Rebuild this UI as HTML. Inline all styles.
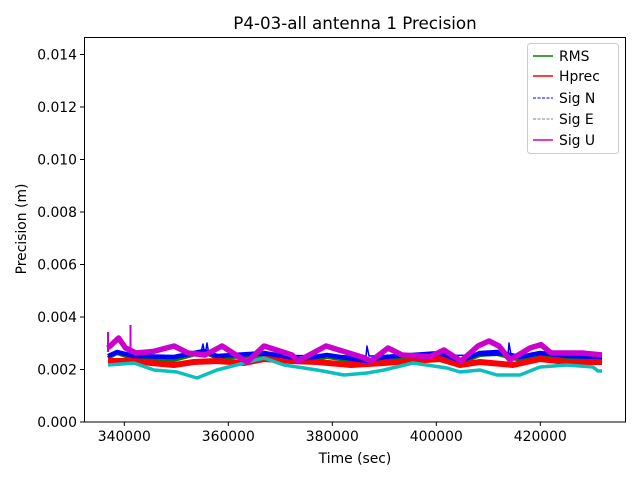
<!DOCTYPE html>
<html><head><meta charset="utf-8"><style>body{margin:0;background:#fff}svg{display:block;font-family:"DejaVu Sans","Liberation Sans",sans-serif}</style></head>
<body>
<svg width="640" height="480" xmlns="http://www.w3.org/2000/svg">
<rect width="640" height="480" fill="#fff"/>
<g fill="none" stroke-linejoin="round">
<polyline stroke="green" stroke-width="4" points="108,358 117,353 134,359 174,360 204,352 217,358 264,355 301,361 327,357 367,363 384,360 440,355 460,363 480,355 497,354 520,360 540,355 567,358 602,360"/>
<polyline stroke="red" stroke-width="6" points="108,361 134,361 151,363 174,365 194,362 217,361 244,363 264,359 291,361 317,362 351,365 384,363 413,361 440,359 460,365 480,362 513,365 540,359 567,362 602,362"/>
<polyline stroke="blue" stroke-width="4.5" points="108,356 117,352 134,356 174,357 204,351 217,356 264,353 301,359 327,355 367,361 384,357 440,353 460,361 480,353 497,352 520,357 540,353 567,356 602,357"/>
<polyline stroke="blue" stroke-width="1.5" points="200,356 203,344 205,356 207,343 209,355 366,356 367,346 369,356 508,355 509,343 511,355"/>
<polyline stroke="#0bbfbf" stroke-width="3.5" points="108,365 134,363 154,370 177,372 197,378 217,370 244,363 264,358 284,365 317,370 344,375 367,373 384,370 413,363 447,368 460,372 480,370 497,375 520,375 540,367 567,365 593,367 598,371 602,371"/>
<polyline stroke="#c0c" stroke-width="5.5" points="108,348 118.6,338 125.5,348 136,353 153,351.5 174,346 188,353 205,355 222,346 236,355 247,362 264,346 292,355 298,361 326,346 361,356.7 371,361 388,348 402,355 430,356.7 444,350 461,361 478,346 489,341 499,346 510,360 530,348 541,344.6 551,353 582,353 602,355"/>
<line x1="108" x2="108" y1="332" y2="352" stroke="#c0c" stroke-width="2"/>
<line x1="130.5" x2="130.5" y1="325" y2="350" stroke="#c0c" stroke-width="2"/>
</g>
<rect x="84.5" y="37.5" width="541" height="384.5" fill="none" stroke="#000" stroke-width="1"/>
<g font-size="13.9" fill="#000">
<text x="355" y="29" text-anchor="middle" font-size="16.7">P4-03-all antenna 1 Precision</text>
<g text-anchor="end">
<text x="77" y="427">0.000</text><text x="77" y="374.5">0.002</text><text x="77" y="322">0.004</text>
<text x="77" y="269.5">0.006</text><text x="77" y="217">0.008</text><text x="77" y="164.5">0.010</text>
<text x="77" y="112">0.012</text><text x="77" y="59.5">0.014</text>
</g>
<g text-anchor="middle">
<text x="124.3" y="441">340000</text><text x="228.3" y="441">360000</text><text x="332.3" y="441">380000</text>
<text x="436.3" y="441">400000</text><text x="540.3" y="441">420000</text>
<text x="355" y="463">Time (sec)</text>
</g>
<text transform="translate(26,229) rotate(-90)" text-anchor="middle">Precision (m)</text>
</g>
<g stroke="#000" stroke-width="1">
<line x1="80" x2="84" y1="422" y2="422"/><line x1="80" x2="84" y1="369.5" y2="369.5"/><line x1="80" x2="84" y1="317" y2="317"/>
<line x1="80" x2="84" y1="264.5" y2="264.5"/><line x1="80" x2="84" y1="212" y2="212"/><line x1="80" x2="84" y1="159.5" y2="159.5"/>
<line x1="80" x2="84" y1="107" y2="107"/><line x1="80" x2="84" y1="54.5" y2="54.5"/>
<line y1="422" y2="426" x1="124.3" x2="124.3"/><line y1="422" y2="426" x1="228.3" x2="228.3"/><line y1="422" y2="426" x1="332.3" x2="332.3"/>
<line y1="422" y2="426" x1="436.3" x2="436.3"/><line y1="422" y2="426" x1="540.3" x2="540.3"/>
</g>
<g>
<rect x="527.5" y="43.5" width="91" height="110" rx="3" fill="#fff" fill-opacity="0.8" stroke="#ccc"/>
<line x1="533" x2="553" y1="56" y2="56" stroke="green" stroke-width="1.5"/>
<line x1="533" x2="553" y1="76" y2="76" stroke="red" stroke-width="1.5"/>
<line x1="533" x2="553" y1="98" y2="98" stroke="blue" stroke-width="1" stroke-dasharray="3,1.5"/>
<line x1="533" x2="553" y1="119" y2="119" stroke="gray" stroke-width="1" stroke-dasharray="3,1.5"/>
<line x1="533" x2="553" y1="140" y2="140" stroke="#c0c" stroke-width="1.5"/>
<g font-size="13.9"><text x="559" y="61">RMS</text><text x="559" y="81">Hprec</text><text x="559" y="103">Sig N</text><text x="559" y="124">Sig E</text><text x="559" y="145">Sig U</text></g>
</g>
</svg>
</body></html>
